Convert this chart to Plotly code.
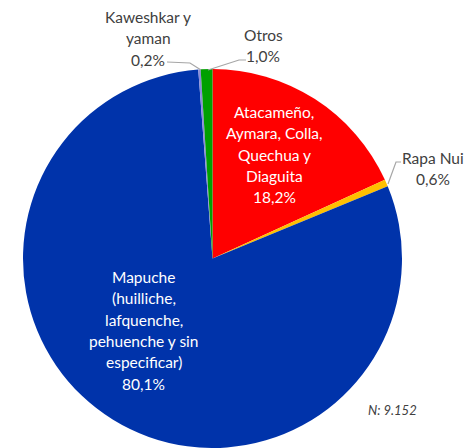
import plotly.graph_objects as go

W, H = 465, 448

# ---- data ----
labels = ["Atacameño, Aymara, Colla, Quechua y Diaguita", "Rapa Nui",
          "Mapuche (huilliche, lafquenche, pehuenche y sin especificar)",
          "Kaweshkar y yaman", "Otros"]
values = [18.2, 0.6, 80.1, 0.2, 1.0]
value_text = ["18,2%", "0,6%", "80,1%", "0,2%", "1,0%"]
label_lines = [["Atacameño,", "Aymara, Colla,", "Quechua y", "Diaguita"],
               ["Rapa Nui"],
               ["Mapuche", "(huilliche,", "lafquenche,", "pehuenche y sin", "especificar)"],
               ["Kaweshkar y", "yaman"],
               ["Otros"]]
colors = ["#FF0000", "#FFC000", "#0033AA", "#8C8CD9", "#00A000"]
note = "N: 9.152"

# ---- layout helpers (pixel -> paper) ----
def px(x):
    return x / W

def py(y):
    return 1 - y / H

cx, cy, r = 212.5, 258.5, 189.5

fig = go.Figure(go.Pie(
    labels=labels, values=values, sort=False, direction="clockwise",
    rotation=0, textinfo="none", hoverinfo="label+percent",
    marker=dict(colors=colors, line=dict(color="white", width=0)),
    domain=dict(x=[px(cx - r), px(cx + r)], y=[py(cy + r), py(cy - r)]),
    showlegend=False,
))

font_family = "Lato, 'Open Sans', sans-serif"
annotations = []

def block(lines, x, y0, step, color, size):
    for i, t in enumerate(lines):
        annotations.append(dict(
            x=px(x), y=py(y0 + i * step), xref="paper", yref="paper",
            text=t, showarrow=False, xanchor="center", yanchor="middle",
            font=dict(family=font_family, size=size, color=color)))

# label positions (pixels): [x_center, first line y]
pos = {0: (274, 112, "white"), 1: (433, 158, "#404040"), 2: (143.5, 277, "white"),
       3: (148, 17, "#404040"), 4: (263, 35, "#404040")}
for i in range(len(labels)):
    x, y0, col = pos[i]
    block(label_lines[i] + [value_text[i]], x, y0, 21.3, col, 15.5)

annotations.append(dict(x=px(392), y=py(410), xref="paper", yref="paper", text=note,
                        showarrow=False, xanchor="center", yanchor="middle",
                        font=dict(family=font_family, size=13, color="#404040", style="italic")))

def leader(points):
    d = "M " + " L ".join(f"{px(a)},{py(b)}" for a, b in points)
    return dict(type="path", path=d, xref="paper", yref="paper",
                line=dict(color="#A6A6A6", width=1.2))

shapes = [
    leader([(167, 62), (190, 63), (201, 70)]),
    leader([(246, 60), (239, 60), (208, 70)]),
    leader([(401, 162), (396, 162), (388, 184)]),
]

fig.update_layout(
    width=W, height=H, margin=dict(l=0, r=0, t=0, b=0),
    paper_bgcolor="white", plot_bgcolor="white",
    annotations=annotations, shapes=shapes,
)

fig.write_html("out.html", config={"displayModeBar": False},
               post_script="document.body.style.margin='0';document.body.style.overflow='hidden';")
